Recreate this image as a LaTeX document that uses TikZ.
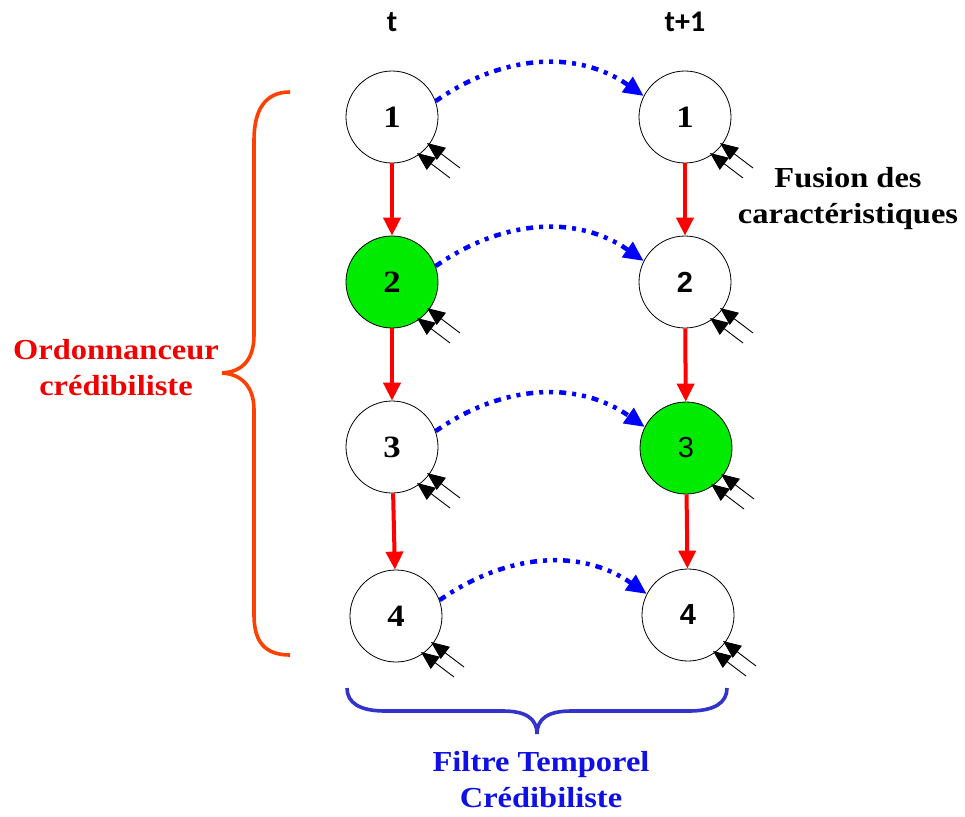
\documentclass[tikz,border=0pt]{standalone}
\usepackage{fontspec}
\setmainfont[FakeStretch=1.12]{Liberation Serif}
\newfontfamily\tfont{Carlito}
\newfontfamily\nsans{Liberation Sans}
\usetikzlibrary{arrows.meta,calc}
\definecolor{nodegreen}{RGB}{0,235,0}
\definecolor{braceorange}{RGB}{255,64,0}
\definecolor{braceblue}{RGB}{51,51,204}
\definecolor{textred}{RGB}{240,0,0}
\definecolor{textblue}{RGB}{16,16,230}
\begin{document}
\begin{tikzpicture}[x=1pt,y=1pt,
  state/.style={circle,draw=black,line width=0.8pt,fill=white,minimum size=92pt,inner sep=0pt,
    font=\fontsize{31}{31}\selectfont\bfseries},
  active/.style={state,fill=nodegreen},
  sansnum/.style={font=\fontsize{29}{29}\selectfont\nsans\bfseries},
  seq/.style={red,line width=4pt,-{Triangle[length=18pt,width=17pt]}},
  temp/.style={blue,line width=4.5pt,dash pattern=on 7pt off 6pt on 4pt off 6pt on 4pt off 6pt,
    -{Triangle[length=20pt,width=18pt]}},
  feat/.style={black,line width=0.9pt,-{Triangle[length=18pt,width=15pt]}},
  lbl/.style={font=\fontsize{29}{36}\selectfont\bfseries,align=center},
  tlbl/.style={font=\fontsize{30}{30}\selectfont\tfont\bfseries}
]
\useasboundingbox (0,0) rectangle (965,-816);

% column labels
\node[tlbl] (tt) at (392,-22) {t};
\node[tlbl] (tt1) at (685,-22) {t+1};

% nodes
\node[state]  (L1) at (392,-117) {1};
\node[active] (L2) at (392,-282) {2};
\node[state]  (L3) at (392,-447) {3};
\node[state]  (L4) at (396,-616) {4};
\node[state]  (R1) at (685,-117) {1};
\node[state,sansnum] (R2) at (685,-282) {2};
\node[active,font=\fontsize{29}{29}\selectfont\nsans] (R3) at (686,-448) {3};
\node[state,sansnum] (R4) at (688,-615) {4};

% red sequence arrows
\draw[seq] (L1) -- (L2);
\draw[seq] (L2) -- (L3);
\draw[seq] (L3) -- (L4);
\draw[seq] (R1) -- (R2);
\draw[seq] (R2) -- (R3);
\draw[seq] (R3) -- (R4);

% blue temporal arrows
\draw[temp] (L1.20) to[out=35,in=145] (R1.153);
\draw[temp] (L2.20) to[out=35,in=145] (R2.153);
\draw[temp] (L3.20) to[out=35,in=145] (R3.153);
\draw[temp] (L4.20) to[out=35,in=145] (R4.153);

% feature arrows
\foreach \n in {L1,L2,L3,L4,R1,R2,R3,R4}{
  \draw[feat] ([shift={(68,-51)}]\n.center) -- ([shift={(35,-26)}]\n.center);
  \draw[feat] ([shift={(58,-61)}]\n.center) -- ([shift={(25,-36)}]\n.center);
}

% left brace
\draw[braceorange,line width=3.6pt]
  (290,-92) .. controls (265,-92) and (254,-110) .. (254,-140) -- (254,-335)
  .. controls (254,-362) and (240,-372) .. (222,-373)
  .. controls (240,-374) and (254,-385) .. (254,-410) -- (254,-615)
  .. controls (254,-642) and (265,-655) .. (290,-655);
\node[lbl,text=textred] (ordo) at (116,-368) {Ordonnanceur\\crédibiliste};

% bottom brace
\draw[braceblue,line width=3.6pt]
  (347,-688) .. controls (347,-703) and (360,-711) .. (385,-711) -- (503,-711)
  .. controls (525,-711) and (537,-718) .. (537,-734)
  .. controls (537,-718) and (549,-711) .. (571,-711) -- (689,-711)
  .. controls (714,-711) and (727,-703) .. (727,-688);
\node[lbl,text=textblue] (filt) at (541,-780) {Filtre Temporel\\Crédibiliste};

% fusion label
\node[lbl] (fus) at (848,-199) {Fusion des\\caractéristiques};
\end{tikzpicture}
\end{document}
